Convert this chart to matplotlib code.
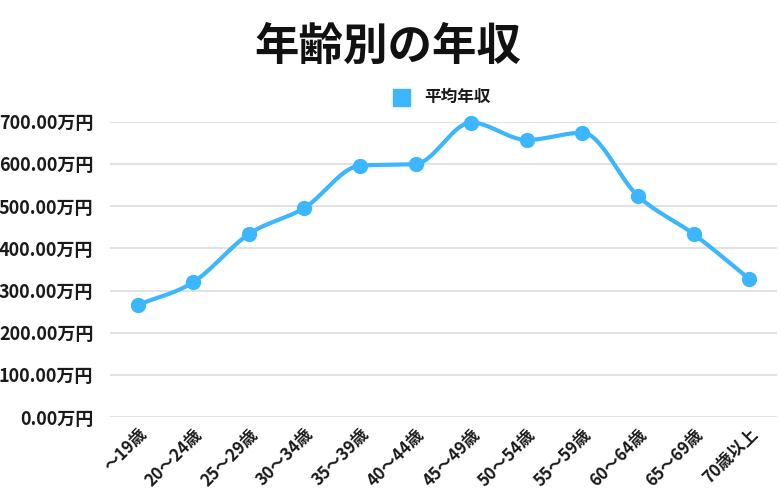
import numpy as np
import matplotlib
matplotlib.use('Agg')
import matplotlib.pyplot as plt
from matplotlib.ticker import FuncFormatter

plt.rcParams['font.family'] = ['Noto Sans CJK JP', 'DejaVu Sans']

# data
age_groups = ['〜19歳', '20〜24歳', '25〜29歳', '30〜34歳', '35〜39歳', '40〜44歳',
              '45〜49歳', '50〜54歳', '55〜59歳', '60〜64歳', '65〜69歳', '70歳以上']
avg_income = [266, 320, 434, 496, 596, 600, 698, 657, 674, 524, 434, 328]

line_color = '#3BB6FF'
text_color = '#1a1a1a'


def monotone_curve(x, y, n=30):
    # Fritsch-Carlson monotone cubic, only used to draw the line smoothly
    x = np.asarray(x, float)
    y = np.asarray(y, float)
    h = np.diff(x)
    d = np.diff(y) / h
    m = np.zeros_like(y)
    m[0], m[-1] = d[0], d[-1]
    for i in range(1, len(y) - 1):
        if d[i - 1] * d[i] <= 0:
            m[i] = 0
        else:
            m[i] = (d[i - 1] + d[i]) / 2
    for i in range(len(d)):
        if d[i] == 0:
            m[i] = m[i + 1] = 0
            continue
        a, b = m[i] / d[i], m[i + 1] / d[i]
        s = a * a + b * b
        if s > 9:
            t = 3 / np.sqrt(s)
            m[i] = t * a * d[i]
            m[i + 1] = t * b * d[i]
    xs, ys = [], []
    for i in range(len(d)):
        t = np.linspace(0, 1, n, endpoint=False)
        h00 = 2 * t**3 - 3 * t**2 + 1
        h10 = t**3 - 2 * t**2 + t
        h01 = -2 * t**3 + 3 * t**2
        h11 = t**3 - t**2
        xs.append(x[i] + t * h[i])
        ys.append(h00 * y[i] + h10 * h[i] * m[i] + h01 * y[i + 1] + h11 * h[i] * m[i + 1])
    xs.append([x[-1]])
    ys.append([y[-1]])
    return np.concatenate(xs), np.concatenate(ys)


fig = plt.figure(figsize=(7.8, 4.99), dpi=100)
ax = fig.add_axes([0.141, 0.164, 0.855, 0.592])

pos = np.arange(len(age_groups))
cx, cy = monotone_curve(pos, avg_income)
ax.plot(cx, cy, color=line_color, linewidth=3, solid_capstyle='round', zorder=3,
        clip_on=False)
ax.plot(pos, avg_income, 'o', color=line_color, markersize=10, zorder=4,
        clip_on=False, label='平均年収')

ax.set_xlim(-0.5, len(age_groups) - 0.5)
ax.set_ylim(0, 700)
ax.set_yticks(range(0, 701, 100))
ax.yaxis.set_major_formatter(FuncFormatter(lambda v, p: f'{v:.2f}万円'))
ax.set_xticks(pos)
ax.set_xticklabels(age_groups, rotation=45, ha='right', va='top',
                   rotation_mode='anchor', fontsize=12, fontweight='bold',
                   color=text_color)
for lab in ax.get_yticklabels():
    lab.set_fontsize(13)
    lab.set_fontweight('bold')
    lab.set_color(text_color)

ax.grid(axis='y', color='#dddddd', linewidth=1.2)
ax.set_axisbelow(True)
ax.tick_params(axis='both', length=0)
ax.tick_params(axis='y', pad=12)
ax.tick_params(axis='x', pad=6)
for s in ax.spines.values():
    s.set_visible(False)

fig.text(0.497, 0.905, '年齢別の年収', ha='center', va='center', fontsize=32,
         fontweight='bold', color='#111111')

# legend
fig.patches.append(plt.Rectangle((393 / 780, 1 - 106 / 499), 17 / 780, 17 / 499,
                                 transform=fig.transFigure, color=line_color))
fig.text(424 / 780, 1 - 97 / 499, '平均年収', ha='left', va='center', fontsize=12,
         fontweight='bold', color=text_color)

fig.savefig('out.png', dpi=100)
